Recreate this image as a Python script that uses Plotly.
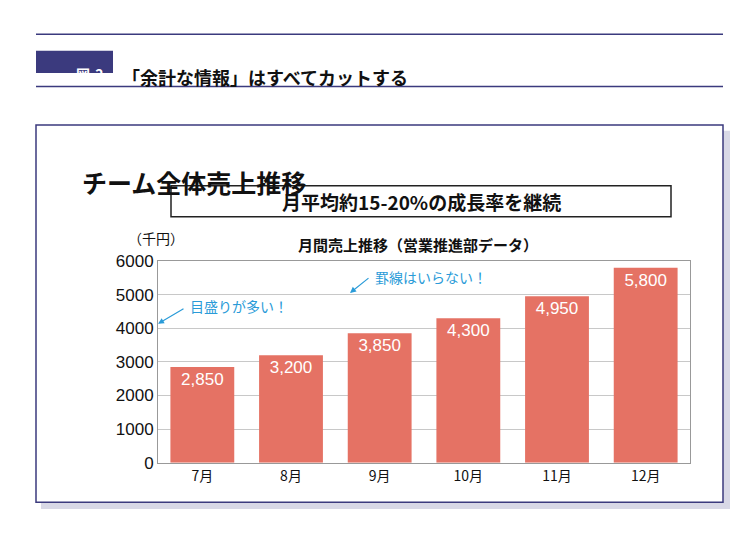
import plotly.graph_objects as go

months = ["7月", "8月", "9月", "10月", "11月", "12月"]
sales = [2850, 3200, 3850, 4300, 4950, 5800]
labels = ["2,850", "3,200", "3,850", "4,300", "4,950", "5,800"]
yticks = [0, 1000, 2000, 3000, 4000, 5000, 6000]

F = "Noto Sans CJK JP"
navy = "#3B3A7E"
blue = "#2A9BD8"
W, H = 750, 539
def px(x): return x / W
def py(y): return 1 - y / H

fig = go.Figure(go.Bar(
    x=months, y=sales, text=labels, textposition="inside", insidetextanchor="end",
    textfont=dict(color="white", size=17, family="Liberation Sans"),
    marker=dict(color="#E57264", line=dict(width=0)), width=0.72,
))

shapes = [
    dict(type="line", xref="paper", yref="paper", x0=px(28), x1=px(715), y0=py(18), y1=py(18), line=dict(color=navy, width=1.5)),
    dict(type="line", xref="paper", yref="paper", x0=px(28), x1=px(715), y0=py(72), y1=py(72), line=dict(color=navy, width=1.5)),
    dict(type="rect", xref="paper", yref="paper", x0=px(28), x1=px(105), y0=py(58), y1=py(35), fillcolor=navy, line=dict(width=0)),
    dict(type="rect", xref="paper", yref="paper", x0=px(33), x1=px(722), y0=py(510), y1=py(118), fillcolor="#D8D8E6", line=dict(width=0), layer="below"),
    dict(type="rect", xref="paper", yref="paper", x0=px(28), x1=px(715), y0=py(503), y1=py(112), fillcolor="white", line=dict(color=navy, width=1.5), layer="below"),
    dict(type="rect", xref="paper", yref="paper", x0=px(163), x1=px(663), y0=py(207), y1=py(175), line=dict(color="#222", width=1.5)),
]
ann = [
    dict(x=px(66), y=py(47), text="<b>図-2</b>", font=dict(color="white", size=14, family=F)),
    dict(x=px(112), y=py(47), text="<b>「余計な情報」はすべてカットする</b>", xanchor="left", font=dict(color="#111", size=18, family=F)),
    dict(x=px(72), y=py(150), text="<b>チーム全体売上推移</b>", xanchor="left", font=dict(color="#111", size=25, family=F)),
    dict(x=px(413), y=py(191), text="<b>月平均約15-20%の成長率を継続</b>", font=dict(color="#111", size=19, family=F)),
    dict(x=px(410), y=py(236), text="<b>月間売上推移（営業推進部データ）</b>", font=dict(color="#111", size=15, family=F)),
    dict(x=px(118), y=py(229), text="（千円）", font=dict(color="#111", size=14, family=F)),
    dict(x=px(365), y=py(270), text="罫線はいらない！", xanchor="left", font=dict(color=blue, size=14, family=F)),
    dict(x=px(180), y=py(300), text="目盛りが多い！", xanchor="left", font=dict(color=blue, size=14, family=F)),
]
for a in ann:
    a.update(xref="paper", yref="paper", showarrow=False)
for (x, y, ax, ay) in [(342, 286, 20, -16), (150, 318, 27, -16)]:
    ann.append(dict(xref="paper", yref="paper", x=px(x), y=py(y), ax=ax, ay=ay, text="", showarrow=True,
                    arrowcolor=blue, arrowhead=2, arrowwidth=1.2, arrowsize=1))

fig.update_layout(
    width=W, height=H, paper_bgcolor="white", plot_bgcolor="white", showlegend=False,
    margin=dict(l=0, r=0, t=0, b=0),
    xaxis=dict(domain=[px(150), px(682)], showline=True, linecolor="#999", mirror=True,
               tickfont=dict(size=14, family=F, color="#111"), ticks=""),
    yaxis=dict(domain=[py(462), py(253)], range=[0, 6000], tickvals=yticks, showline=True, linecolor="#999", mirror=True,
               gridcolor="#C8C8C8", tickfont=dict(size=17, family="Liberation Sans", color="#111"), ticks=""),
    shapes=shapes, annotations=ann,
)
fig.write_html("out.html")
